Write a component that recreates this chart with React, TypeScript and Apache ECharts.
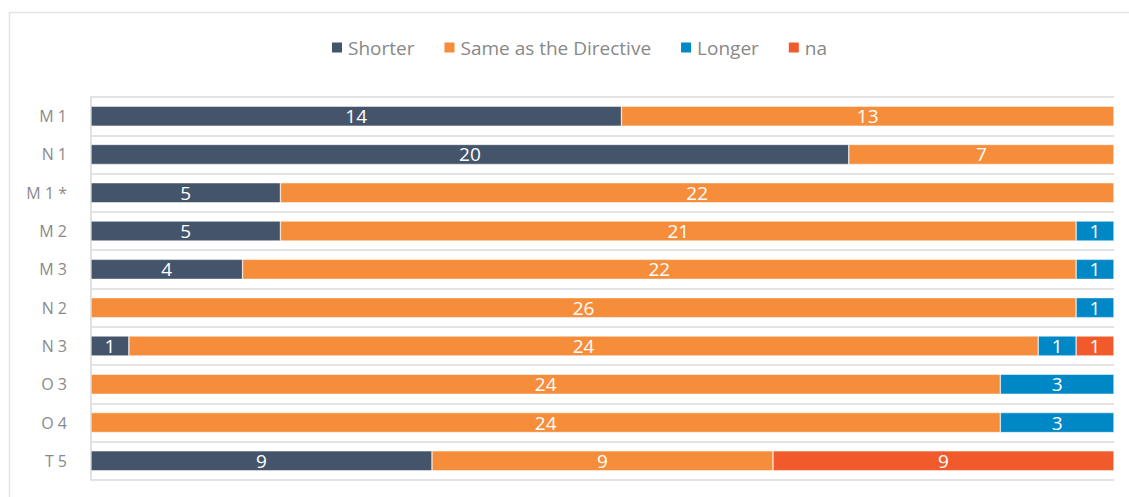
import React, { useEffect, useRef } from "react";
import * as echarts from "echarts";

const categories = ["M 1", "N 1", "M 1 *", "M 2", "M 3", "N 2", "N 3", "O 3", "O 4", "T 5"];
const shorter = [14, 20, 5, 5, 4, null, 1, null, null, 9];
const same = [13, 7, 22, 21, 22, 26, 24, 24, 24, 9];
const longer = [null, null, null, 1, 1, 1, 1, 3, 3, null];
const na = [null, null, null, null, null, null, 1, null, null, 9];

const seriesNames = ["Shorter", "Same as the Directive", "Longer", "na"];
const colors = ["#44546A", "#F68D3A", "#0088C6", "#F15B2C"];

export default function App() {
  const ref = useRef<HTMLDivElement>(null);
  useEffect(() => {
    if (!ref.current) return;
    const chart = echarts.init(ref.current, null, { renderer: "svg" });
    const font = "'Open Sans', Lato, sans-serif";
    const data = [shorter, same, longer, na];
    chart.setOption({
      animation: false,
      textStyle: { fontFamily: font },
      graphic: [
        {
          type: "rect",
          shape: { x: 9.5, y: 12.5, width: 1130, height: 495 },
          style: { fill: "none", stroke: "#e3e3e3", lineWidth: 1.5 },
          silent: true,
        },
      ],
      legend: {
        top: 33,
        left: 325,
        itemWidth: 12,
        itemHeight: 12,
        itemGap: 28,
        icon: "rect",
        textStyle: { color: "#888888", fontSize: 19, fontFamily: font },
        data: seriesNames,
      },
      grid: { left: 91, right: 15, top: 97, bottom: 17, containLabel: false },
      xAxis: {
        type: "value",
        min: 0,
        max: 27,
        show: false,
      },
      yAxis: {
        type: "category",
        inverse: true,
        data: categories,
        axisLine: { show: true, lineStyle: { color: "#e0e0e0", width: 2 } },
        axisTick: { show: false },
        splitLine: { show: true, lineStyle: { color: "#e3e3e3", width: 2 } },
        axisLabel: { color: "#8a8a8a", fontSize: 16, margin: 24, fontFamily: font },
      },
      series: seriesNames.map((name, i) => ({
        name,
        type: "bar",
        stack: "total",
        barWidth: 20,
        data: data[i],
        itemStyle: { color: colors[i], borderColor: "#ffffff", borderWidth: 0.5 },
        label: {
          show: true,
          position: "inside",
          color: "#ffffff",
          fontSize: 19,
          fontFamily: font,
        },
      })),
    });
    return () => chart.dispose();
  }, []);
  return (
    <div
      ref={ref}
      style={{ position: "absolute", left: 0, top: 0, width: 1129, height: 497, background: "#fff" }}
    />
  );
}
